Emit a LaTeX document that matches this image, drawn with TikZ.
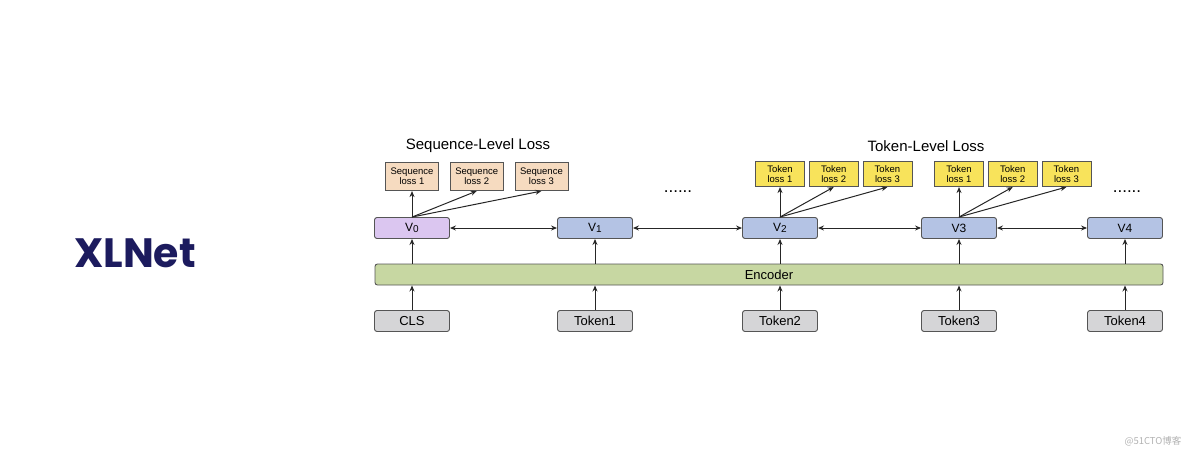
\documentclass[tikz,border=0pt]{standalone}
\usepackage{fontspec}
\setmainfont{Liberation Sans}
\newfontfamily\logofont{Poppins}
\newfontfamily\cjkfont{Noto Sans CJK SC}
\usepackage{tikz}
\usetikzlibrary{arrows.meta}
\usetikzlibrary{positioning}
\definecolor{seqfill}{HTML}{F6DBC0}
\definecolor{tokfill}{HTML}{F8E35B}
\definecolor{vecfill}{HTML}{B4C3E4}
\definecolor{clsfill}{HTML}{DBC6F0}
\definecolor{encfill}{HTML}{C7D7A2}
\definecolor{inputfill}{HTML}{D5D5D7}
\definecolor{logonavy}{HTML}{1C1B5E}
\definecolor{boxline}{HTML}{555555}
\newcommand{\vidx}[1]{\raisebox{-1pt}{\fontsize{10}{10}\selectfont #1}}
\tikzstyle{box} = [draw = boxline, rounded corners = 2.5pt, line width = .9pt, inner sep = 0]
\tikzstyle{vec box} = [box, fill = vecfill, minimum width = 75pt, minimum height = 21pt, font = \fontsize{12}{12}\selectfont]
\tikzstyle{input box} = [box, fill = inputfill, minimum width = 75pt, minimum height = 21pt, font = \fontsize{13}{13}\selectfont]
\tikzstyle{loss box} = [draw = boxline, line width = .7pt, inner sep = 0, align = center, font = \fontsize{9.5}{10}\selectfont]
\tikzstyle{seq loss} = [loss box, fill = seqfill, minimum width = 53pt, minimum height = 28pt]
\tikzstyle{tok loss} = [loss box, fill = tokfill, minimum width = 49pt, minimum height = 25pt]
\tikzstyle{link} = [-{Stealth[length = 6pt, width = 5pt]}, line width = 1pt, black!85]
\tikzstyle{both link} = [{Stealth[length = 6pt, width = 5pt]}-{Stealth[length = 6pt, width = 5pt]}, line width = 1pt, black!85]
\tikzstyle{heading} = [font = \fontsize{15}{15}\selectfont]
\tikzstyle{dots} = [font = \fontsize{17}{17}\selectfont]

\begin{document}
\begin{tikzpicture}[x = 1pt, y = -1pt]
    \useasboundingbox (0, 0) rectangle (1184, 459);

    \node [text = logonavy, font = \logofont\bfseries\fontsize{41}{41}\selectfont] (logo) at (135, 253) {XLNet};

    % vectors and inputs
    \node [vec box, fill = clsfill] (v0) at (412, 228) {V\vidx{0}};
    \node [vec box] (v1) at (595, 228) {V\vidx{1}};
    \node [vec box] (v2) at (780, 228) {V\vidx{2}};
    \node [vec box] (v3) at (959, 228) {V3};
    \node [vec box] (v4) at (1125, 228) {V4};

    \node [input box] (in0) at (412, 321) {CLS};
    \foreach \i/\x in {1/595, 2/780, 3/959, 4/1125}
        \node [input box] (in\i) at (\x, 321) {Token\i};

    \node [box, fill = encfill, minimum width = 788pt, minimum height = 21pt, font = \fontsize{13}{13}\selectfont] (enc) at (769, 274.5) {Encoder};

    \foreach \i in {0, ..., 4}
    {
        \draw [link] (in\i.north) -- (in\i.north |- enc.south);
        \draw [link] (enc.north -| v\i.south) -- (v\i.south);
    }
    \foreach \i/\j in {0/1, 1/2, 2/3, 3/4}
        \draw [both link] (v\i.east) -- (v\j.west);

    % sequence level
    \node [seq loss, above = 26pt of v0] (s1) {Sequence\\loss 1};
    \node [seq loss, right = 11pt of s1] (s2) {Sequence\\loss 2};
    \node [seq loss, right = 11pt of s2] (s3) {Sequence\\loss 3};
    \draw [link] (v0.north) -- (s1.south);
    \draw [link] (v0.north) -- (s2.south);
    \draw [link] (v0.north) -- (s3.south);
    \node [heading] (seqhead) at (478, 146) {Sequence-Level Loss};

    % token level
    \foreach \i in {2, 3}
    {
        \node [tok loss, above = 30pt of v\i] (t\i1) {Token\\loss 1};
        \node [tok loss, right = 4pt of t\i1] (t\i2) {Token\\loss 2};
        \node [tok loss, right = 4pt of t\i2] (t\i3) {Token\\loss 3};
        \foreach \k in {1, 2, 3}
            \draw [link] (v\i.north) -- (t\i\k.south);
    }
    \node [heading] (tokhead) at (926, 146) {Token-Level Loss};

    \node [dots] (dotsa) at (678, 192) {......};
    \node [dots] (dotsb) at (1127, 192) {......};

    \node [text = black!30, font = \cjkfont\fontsize{9.5}{9.5}\selectfont] (mark) at (1153, 441) {@51CTO博客};
\end{tikzpicture}
\end{document}
